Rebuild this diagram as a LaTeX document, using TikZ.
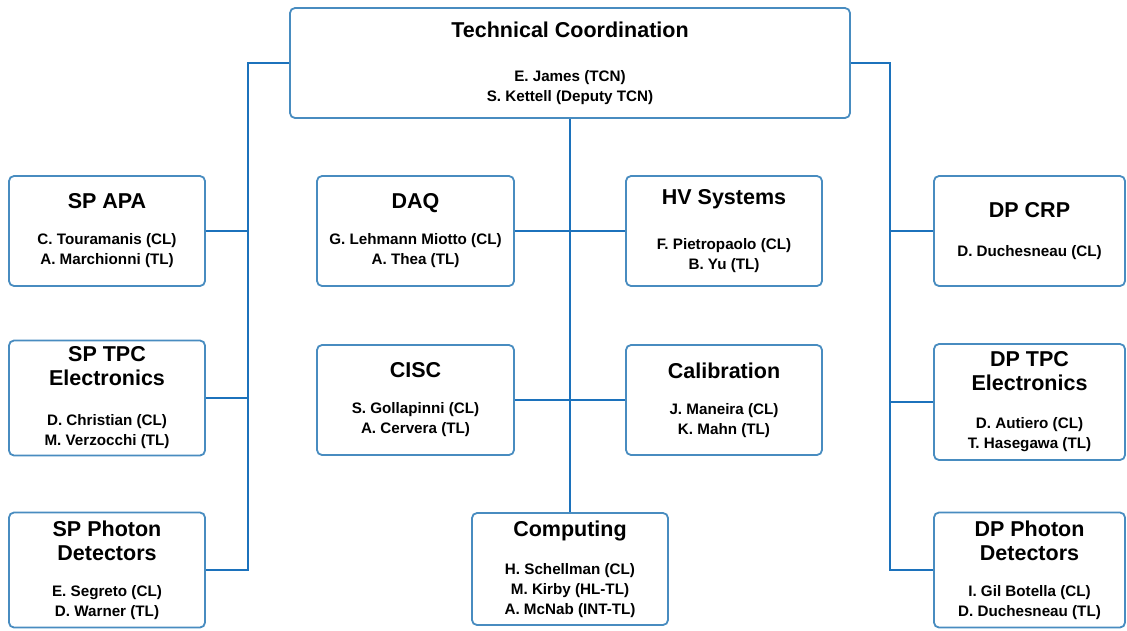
\documentclass[tikz,border=0pt]{standalone}
\usepackage{fontspec}
\setmainfont{Liberation Sans}
\usepackage{tikz}
\usetikzlibrary{positioning,calc}
\definecolor{boxBlue}{RGB}{72,140,192}
\definecolor{lineBlue}{RGB}{28,114,188}
\newcommand{\ttlfont}{\fontsize{21.5}{25}\selectfont}
\tikzset{
  unitbox/.style={rounded corners=5pt, draw=boxBlue, fill=white, line width=1.8pt, align=center,
                  inner sep=0pt, font=\fontsize{15.2}{20}\selectfont\bfseries},
  link/.style={draw=lineBlue, line width=1.8pt}
}
\begin{document}
\begin{tikzpicture}[x=1pt, y=-1pt]
\useasboundingbox (0,0) rectangle (1127,630);
% top
\node[unitbox, minimum width=560pt, minimum height=110pt] (tc) at (570,63)
  {{\ttlfont Technical Coordination}\\[24pt]E. James (TCN)\\S. Kettell (Deputy TCN)};
% single phase
\node[unitbox, minimum width=196pt, minimum height=110pt] (apa) at (107,231)
  {{\ttlfont SP APA}\\[16pt]C. Touramanis (CL)\\A. Marchionni (TL)};
\node[unitbox, minimum width=196pt, minimum height=115pt] (sptpc) at (107,398)
  {{\ttlfont SP TPC}\\[4pt]{\ttlfont Electronics}\\[20pt]D. Christian (CL)\\M. Verzocchi (TL)};
\node[unitbox, minimum width=196pt, minimum height=115pt] (sppd) at (107,570)
  {{\ttlfont SP Photon}\\[4pt]{\ttlfont Detectors}\\[16pt]E. Segreto (CL)\\D. Warner (TL)};
% consortia in the middle
\node[unitbox, minimum width=197pt, minimum height=110pt] (daq) at (415.5,231)
  {{\ttlfont DAQ}\\[16pt]G. Lehmann Miotto (CL)\\A. Thea (TL)};
\node[unitbox, minimum width=196pt, minimum height=110pt] (hv) at (724,231)
  {{\ttlfont HV Systems}\\[25pt]F. Pietropaolo (CL)\\B. Yu (TL)};
\node[unitbox, minimum width=197pt, minimum height=110pt] (cisc) at (415.5,400)
  {{\ttlfont CISC}\\[16pt]S. Gollapinni (CL)\\A. Cervera (TL)};
\node[unitbox, minimum width=196pt, minimum height=110pt] (calib) at (724,400)
  {{\ttlfont Calibration}\\[16pt]J. Maneira (CL)\\K. Mahn (TL)};
\node[unitbox, minimum width=196pt, minimum height=112pt] (comp) at (570,569)
  {{\ttlfont Computing}\\[18pt]H. Schellman (CL)\\M. Kirby (HL-TL)\\A. McNab (INT-TL)};
% dual phase
\node[unitbox, minimum width=191pt, minimum height=110pt] (dpcrp) at (1029.5,231)
  {{\ttlfont DP CRP}\\[19pt]D. Duchesneau (CL)};
\node[unitbox, minimum width=191pt, minimum height=116pt] (dptpc) at (1029.5,402)
  {{\ttlfont DP TPC}\\[4pt]{\ttlfont Electronics}\\[18pt]D. Autiero (CL)\\T. Hasegawa (TL)};
\node[unitbox, minimum width=191pt, minimum height=115pt] (dppd) at (1029.5,570)
  {{\ttlfont DP Photon}\\[4pt]{\ttlfont Detectors}\\[16pt]I. Gil Botella (CL)\\D. Duchesneau (TL)};
% buses
\coordinate (lbus) at (248,0);
\coordinate (rbus) at (890,0);
\draw[link] (tc.west) -| (lbus |- sppd.east) -- (sppd.east);
\draw[link] (tc.east) -| (rbus |- dppd.west) -- (dppd.west);
\foreach \n in {apa,sptpc}
  \draw[link] (\n.east) -- (\n.east -| lbus);
\foreach \n in {dpcrp,dptpc}
  \draw[link] (\n.west) -- (\n.west -| rbus);
\draw[link] (tc.south) -- (comp.north);
\draw[link] (daq.east) -- (hv.west);
\draw[link] (cisc.east) -- (calib.west);
\end{tikzpicture}
\end{document}
